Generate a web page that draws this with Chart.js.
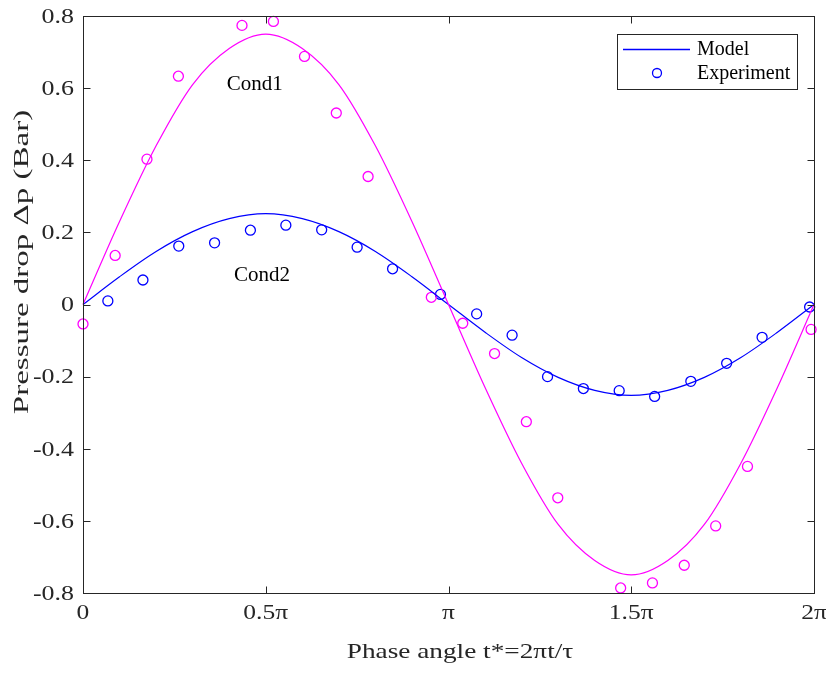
<!DOCTYPE html>
<html>
<head>
<meta charset="utf-8">
<script src="https://cdn.jsdelivr.net/npm/chart.js@4.4.1/dist/chart.umd.min.js"></script>
<style>
  html, body { margin: 0; padding: 0; background: #ffffff; }
  #wrap { width: 826px; height: 673px; position: relative; }
</style>
</head>
<body>
<div id="wrap"><canvas id="c" width="826" height="673"></canvas></div>
<script>
// ---- Data (x in units of pi) ----
const modelX = [0, 0.1, 0.2, 0.3, 0.4, 0.5, 0.6, 0.7, 0.8, 0.9, 1.0, 1.1, 1.2, 1.3, 1.4, 1.5, 1.6, 1.7, 1.8, 1.9, 2.0];
const cond1Model = [0, 0.23, 0.44, 0.61, 0.71, 0.75, 0.71, 0.61, 0.44, 0.23, 0, -0.23, -0.44, -0.61, -0.71, -0.75, -0.71, -0.61, -0.44, -0.23, 0];
const cond2Model = [0, 0.077, 0.147, 0.202, 0.238, 0.252, 0.238, 0.202, 0.147, 0.077, 0, -0.077, -0.147, -0.202, -0.238, -0.252, -0.238, -0.202, -0.147, -0.077, 0];

const cond1ExpX = [0, 0.088, 0.175, 0.261, 0.435, 0.521, 0.606, 0.693, 0.780, 0.953, 1.039, 1.126, 1.213, 1.299, 1.471, 1.558, 1.645, 1.731, 1.818, 1.992];
const cond1ExpY = [-0.054, 0.136, 0.403, 0.633, 0.774, 0.785, 0.688, 0.531, 0.355, 0.020, -0.052, -0.136, -0.325, -0.536, -0.786, -0.772, -0.723, -0.614, -0.449, -0.069];

const cond2ExpX = [0.068, 0.164, 0.262, 0.360, 0.458, 0.555, 0.653, 0.750, 0.847, 0.978, 1.077, 1.174, 1.271, 1.369, 1.467, 1.564, 1.663, 1.761, 1.858, 1.988];
const cond2ExpY = [0.010, 0.068, 0.162, 0.171, 0.206, 0.220, 0.207, 0.159, 0.099, 0.028, -0.026, -0.085, -0.200, -0.233, -0.239, -0.255, -0.213, -0.163, -0.091, -0.007];

const xTickValues = [0, 0.5, 1, 1.5, 2];
const xTickLabels = ['0', '0.5\u03C0', '\u03C0', '1.5\u03C0', '2\u03C0'];
const yTickValues = [-0.8, -0.6, -0.4, -0.2, 0, 0.2, 0.4, 0.6, 0.8];
const yTickLabels = ['-0.8', '-0.6', '-0.4', '-0.2', '0', '0.2', '0.4', '0.6', '0.8'];

const xTitle = 'Phase angle t*=2\u03C0t/\u03C4';
const yTitle = 'Pressure drop \u0394p (Bar)';
const legendLabels = ['Model', 'Experiment'];
const annotations = [{ text: 'Cond1', x: 0.47, y: 0.61 }, { text: 'Cond2', x: 0.49, y: 0.08 }];

const MAGENTA = '#ff00ff';
const BLUE = '#0000ff';
const TEXT = '#262626';
const FONT = '"Liberation Serif", "Times New Roman", serif';

function pts(xs, ys) { return xs.map((x, i) => ({ x: x, y: ys[i] })); }

function stretchedText(ctx, text, x, y, sx, align) {
  ctx.save();
  ctx.translate(x, y);
  ctx.scale(sx, 1);
  ctx.textAlign = align;
  ctx.fillText(text, 0, 0);
  ctx.restore();
}

const framePlugin = {
  id: 'frame',
  afterDatasetsDraw(chart) {
    const ctx = chart.ctx, a = chart.chartArea;
    const xs = chart.scales.x, ys = chart.scales.y;
    ctx.save();
    // box
    ctx.strokeStyle = TEXT;
    ctx.lineWidth = 1;
    const L = Math.round(a.left) + 0.5, T = Math.round(a.top) + 0.5, R = Math.round(a.right) + 0.5, B = Math.round(a.bottom) + 0.5;
    ctx.strokeRect(L, T, R - L, B - T);
    // inward ticks
    const tl = 7;
    ctx.beginPath();
    xTickValues.forEach(v => {
      const px = Math.round(xs.getPixelForValue(v)) + 0.5;
      ctx.moveTo(px, B); ctx.lineTo(px, B - tl);
      ctx.moveTo(px, T); ctx.lineTo(px, T + tl);
    });
    yTickValues.forEach(v => {
      const py = Math.round(ys.getPixelForValue(v)) + 0.5;
      ctx.moveTo(L, py); ctx.lineTo(L + tl, py);
      ctx.moveTo(R, py); ctx.lineTo(R - tl, py);
    });
    ctx.stroke();

    // tick labels
    ctx.fillStyle = TEXT;
    ctx.font = '22px ' + FONT;
    ctx.textBaseline = 'middle';
    yTickValues.forEach((v, i) => {
      stretchedText(ctx, yTickLabels[i], a.left - 9, ys.getPixelForValue(v) + 1, 1.18, 'right');
    });
    xTickValues.forEach((v, i) => {
      stretchedText(ctx, xTickLabels[i], xs.getPixelForValue(v), a.bottom + 20, 1.16, 'center');
    });

    // annotations
    ctx.fillStyle = '#000000';
    ctx.font = '21px ' + FONT;
    ctx.textAlign = 'center';
    annotations.forEach(an => {
      ctx.fillText(an.text, xs.getPixelForValue(an.x), ys.getPixelForValue(an.y));
    });

    // legend
    const lx = 617, ly = 34, lw = 180, lh = 55;
    ctx.fillStyle = '#ffffff';
    ctx.fillRect(lx, ly, lw, lh);
    ctx.strokeStyle = TEXT;
    ctx.lineWidth = 1;
    ctx.strokeRect(lx + 0.5, ly + 0.5, lw, lh);
    ctx.strokeStyle = BLUE;
    ctx.lineWidth = 1.3;
    ctx.beginPath(); ctx.moveTo(623, 49.5); ctx.lineTo(690, 49.5); ctx.stroke();
    ctx.beginPath(); ctx.arc(657, 73, 4.5, 0, Math.PI * 2); ctx.stroke();
    ctx.fillStyle = '#000000';
    ctx.font = '20px ' + FONT;
    ctx.textAlign = 'left';
    ctx.fillText(legendLabels[0], 697, 50);
    ctx.fillText(legendLabels[1], 697, 74);

    // axis titles
    ctx.fillStyle = TEXT;
    ctx.font = '22px ' + FONT;
    stretchedText(ctx, xTitle, 460, 652, 1.24, 'center');
    ctx.save();
    ctx.translate(22, 262);
    ctx.rotate(-Math.PI / 2);
    stretchedText(ctx, yTitle, 0, 0, 1.5, 'center');
    ctx.restore();
    ctx.restore();
  }
};

new Chart(document.getElementById('c'), {
  type: 'scatter',
  data: {
    datasets: [
      { label: 'Cond1 Model', type: 'line', data: pts(modelX, cond1Model), borderColor: MAGENTA, borderWidth: 1.2, pointRadius: 0, fill: false, cubicInterpolationMode: 'monotone' },
      { label: 'Cond2 Model', type: 'line', data: pts(modelX, cond2Model), borderColor: BLUE, borderWidth: 1.2, pointRadius: 0, fill: false, cubicInterpolationMode: 'monotone' },
      { label: 'Cond1 Experiment', data: pts(cond1ExpX, cond1ExpY), borderColor: MAGENTA, backgroundColor: 'rgba(0,0,0,0)', pointRadius: 5, pointBorderWidth: 1.3, pointStyle: 'circle' },
      { label: 'Cond2 Experiment', data: pts(cond2ExpX, cond2ExpY), borderColor: BLUE, backgroundColor: 'rgba(0,0,0,0)', pointRadius: 5, pointBorderWidth: 1.3, pointStyle: 'circle' }
    ]
  },
  options: {
    responsive: false,
    animation: false,
    clip: false,
    layout: { padding: { top: 16, right: 12, left: 0, bottom: 0 } },
    plugins: { legend: { display: false }, tooltip: { enabled: false } },
    scales: {
      x: {
        type: 'linear', min: 0, max: 2,
        afterBuildTicks: s => { s.ticks = xTickValues.map(v => ({ value: v })); },
        afterFit: s => { s.height = 80; },
        grid: { display: false },
        border: { display: false },
        ticks: { display: false }
      },
      y: {
        type: 'linear', min: -0.8, max: 0.8,
        afterBuildTicks: s => { s.ticks = yTickValues.map(v => ({ value: v })); },
        afterFit: s => { s.width = 83; },
        grid: { display: false },
        border: { display: false },
        ticks: { display: false }
      }
    }
  },
  plugins: [framePlugin]
});
</script>
</body>
</html>
